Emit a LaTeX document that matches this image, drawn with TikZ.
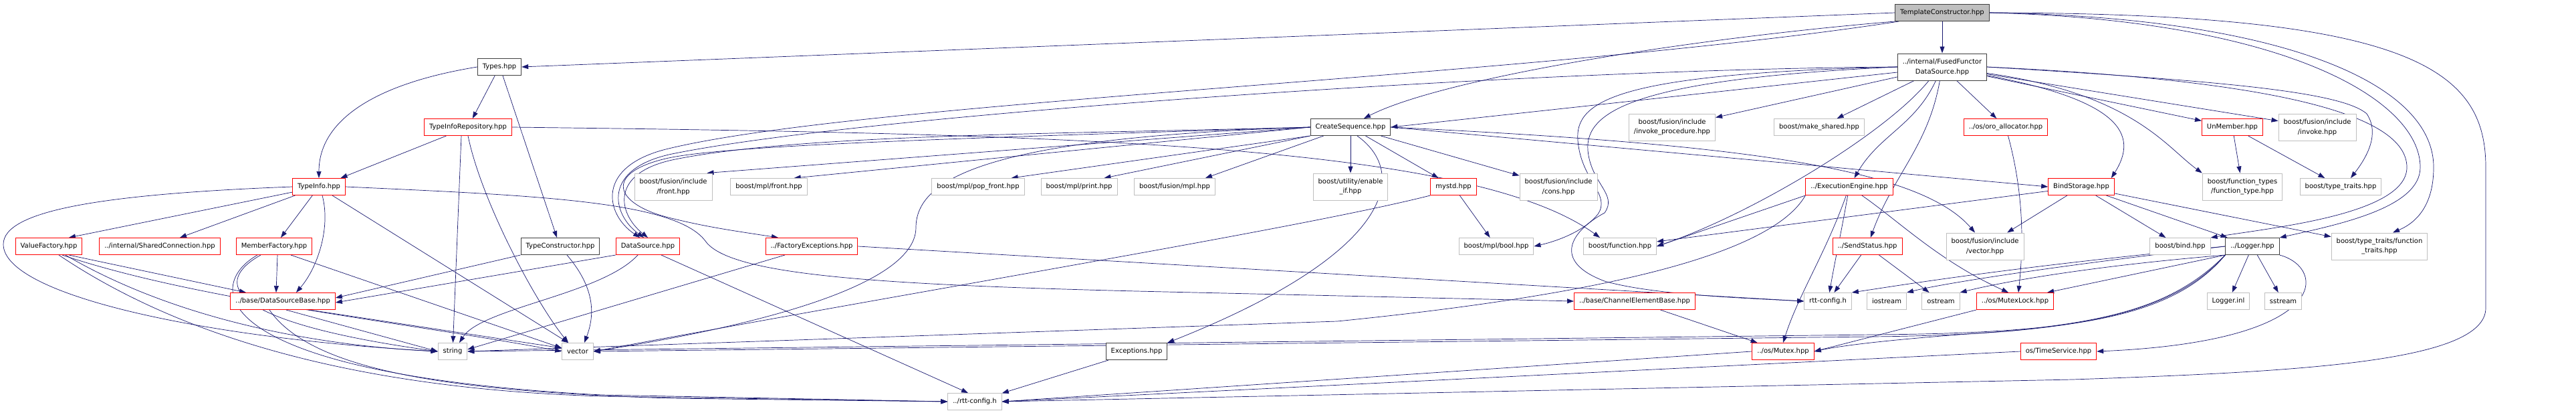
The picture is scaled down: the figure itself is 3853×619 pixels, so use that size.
\documentclass[tikz,border=0pt]{standalone}
\usepackage{fontspec}
\setmainfont{DejaVu Sans}
\usetikzlibrary{arrows.meta,backgrounds}
\definecolor{edgeblue}{RGB}{25,25,112}
\definecolor{truncred}{RGB}{255,0,0}
\definecolor{sysgray}{RGB}{191,191,191}
\definecolor{docdark}{RGB}{64,64,64}
\definecolor{rootfill}{RGB}{191,191,191}

\begin{document}
\begin{tikzpicture}[x=1pt,y=-1pt,
  hdr/.style={draw=#1,fill=white,line width=1pt,minimum height=25pt,inner xsep=7.5pt,inner ysep=1pt,align=center,font=\fontsize{10}{14.5}\selectfont},
  dochdr/.style={hdr=docdark},
  trunchdr/.style={hdr=truncred},
  syshdr/.style={hdr=sysgray},
  tall/.style={minimum height=40pt},
  incl/.style={draw=edgeblue,line width=0.7pt,-{Triangle[length=10pt,width=7pt]}}]
\useasboundingbox (0,0) rectangle (3853,619);

\node[dochdr,fill=rootfill] (TC) at (2905,19) {TemplateConstructor.hpp};
\node[dochdr,tall] (FF) at (2905,100) {../internal/FusedFunctor\\DataSource.hpp};
\node[dochdr] (Types) at (747,100) {Types.hpp};
\node[trunchdr] (TIR) at (700,190) {TypeInfoRepository.hpp};
\node[dochdr] (CS) at (2020,190) {CreateSequence.hpp};
\node[syshdr,tall] (invproc) at (2501,190) {boost/fusion/include\\/invoke\_procedure.hpp};
\node[syshdr] (makesh) at (2721,190) {boost/make\_shared.hpp};
\node[trunchdr] (oroalloc) at (3000,190) {../os/oro\_allocator.hpp};
\node[trunchdr] (UnMember) at (3339,190) {UnMember.hpp};
\node[syshdr,tall] (invoke) at (3466,190) {boost/fusion/include\\/invoke.hpp};
\node[trunchdr] (TypeInfo) at (477,279) {TypeInfo.hpp};
\node[syshdr,tall] (ffront) at (1007,279) {boost/fusion/include\\/front.hpp};
\node[syshdr] (mfront) at (1150,279) {boost/mpl/front.hpp};
\node[syshdr] (popfront) at (1463,279) {boost/mpl/pop\_front.hpp};
\node[syshdr] (print) at (1614,279) {boost/mpl/print.hpp};
\node[syshdr] (fmpl) at (1757,279) {boost/fusion/mpl.hpp};
\node[syshdr,tall] (enableif) at (2020,279) {boost/utility/enable\\\_if.hpp};
\node[trunchdr] (mystd) at (2174,279) {mystd.hpp};
\node[syshdr,tall] (cons) at (2331,279) {boost/fusion/include\\/cons.hpp};
\node[trunchdr] (EE) at (2766,279) {../ExecutionEngine.hpp};
\node[trunchdr] (BindStorage) at (3113,279) {BindStorage.hpp};
\node[syshdr,tall] (ftype) at (3354,279) {boost/function\_types\\/function\_type.hpp};
\node[syshdr] (ttraits) at (3501,279) {boost/type\_traits.hpp};
\node[trunchdr] (ValueFactory) at (73,368) {ValueFactory.hpp};
\node[trunchdr] (SharedConn) at (239,368) {../internal/SharedConnection.hpp};
\node[trunchdr] (MemberFactory) at (410,368) {MemberFactory.hpp};
\node[dochdr] (TypeConstructor) at (838,368) {TypeConstructor.hpp};
\node[trunchdr] (DataSource) at (969,368) {DataSource.hpp};
\node[trunchdr] (FactExc) at (1214,368) {../FactoryExceptions.hpp};
\node[syshdr] (mplbool) at (2238,368) {boost/mpl/bool.hpp};
\node[syshdr] (function) at (2423,368) {boost/function.hpp};
\node[trunchdr] (SendStatus) at (2793,368) {../SendStatus.hpp};
\node[syshdr,tall] (fvector) at (2969,368) {boost/fusion/include\\/vector.hpp};
\node[syshdr] (bind) at (3261,368) {boost/bind.hpp};
\node[dochdr] (Logger) at (3369,368) {../Logger.hpp};
\node[syshdr,tall] (ftraits) at (3559,368) {boost/type\_traits/function\\\_traits.hpp};
\node[trunchdr] (DSB) at (423,450) {../base/DataSourceBase.hpp};
\node[trunchdr] (CEB) at (2445,450) {../base/ChannelElementBase.hpp};
\node[syshdr] (rttcfg) at (2734,450) {rtt-config.h};
\node[syshdr] (iostream) at (2822,450) {iostream};
\node[syshdr] (ostream) at (2903,450) {ostream};
\node[trunchdr] (MutexLock) at (3014,450) {../os/MutexLock.hpp};
\node[syshdr] (loginl) at (3333,450) {Logger.inl};
\node[syshdr] (sstream) at (3415,450) {sstream};
\node[syshdr] (string) at (677,525) {string};
\node[syshdr] (vector) at (864,525) {vector};
\node[dochdr] (Exceptions) at (1700,525) {Exceptions.hpp};
\node[trunchdr] (Mutex) at (2667,525) {../os/Mutex.hpp};
\node[trunchdr] (TimeService) at (3079,525) {os/TimeService.hpp};
\node[syshdr] (rttcfgB) at (1458,600) {../rtt-config.h};

\begin{scope}[on background layer]
\draw[incl] (TC.west) -- (Types.east);
\draw[incl] (TC) -- (FF);
\draw[incl] (TC.south west) .. controls (2500,60) and (2150,120) .. ([xshift=20pt]CS.north);
\draw[incl] ([xshift=6pt]TC.south west) .. controls (2300,115) and (1300,150) .. (1000,222) .. controls (890,248) and (905,320) .. ([xshift=-12pt]DataSource.north);
\draw[incl] (TC.east) .. controls (3600,20) and (3718,100) .. (3718,250) -- (3718,460) .. controls (3718,540) and (3450,555) .. (3100,567) -- (rttcfgB.east);
\draw[incl] (TC.east) .. controls (3400,25) and (3640,120) .. (3640,250) .. controls (3640,300) and (3620,330) .. ([xshift=20pt]ftraits.north);
\draw[incl] (TC.east) .. controls (3420,30) and (3620,150) .. (3620,250) .. controls (3620,310) and (3500,335) .. (Logger.north east);

\draw[incl] ([yshift=-8pt]FF.west) -- (CS.east);
\draw[incl] (FF.west) .. controls (2300,103) and (1300,170) .. (1005,230) .. controls (900,252) and (915,320) .. ([xshift=-6pt]DataSource.north);
\draw[incl] (FF) -- (invproc);
\draw[incl] (FF) -- (makesh);
\draw[incl] (FF) -- (oroalloc);
\draw[incl] (FF) to[out=-115,in=60] (EE);
\draw[incl] (FF) to[out=-100,in=70] (SendStatus);
\draw[incl] ([xshift=-20pt]FF.south) .. controls (2820,200) and (2620,320) .. (function.east);
\draw[incl] (FF.west) .. controls (2420,110) and (2355,150) .. (2360,210) .. controls (2365,270) and (2410,290) .. (2390,320) .. controls (2370,345) and (2330,360) .. (mplbool.east);
\draw[incl] (FF.west) .. controls (2450,118) and (2370,165) .. (2375,225) .. controls (2380,275) and (2420,290) .. (2400,318) .. controls (2350,345) and (2320,390) .. (2400,420) .. controls (2470,440) and (2600,445) .. (rttcfg.west);
\draw[incl] (FF) -- (UnMember);
\draw[incl] (FF) -- (invoke);
\draw[incl] (FF) .. controls (3190,140) and (3240,220) .. (ftype.north west);
\draw[incl] (FF) .. controls (3170,150) and (3200,200) .. ([xshift=-5pt]BindStorage.north east);
\draw[incl] (FF.east) .. controls (3300,120) and (3500,135) .. (3540,170) .. controls (3560,200) and (3540,235) .. ([xshift=15pt]ttraits.north);
\draw[incl] (FF.east) .. controls (3400,120) and (3600,170) .. (3600,250) .. controls (3600,320) and (3400,340) .. (bind.north east);

\draw[incl] (Types) -- (TIR);
\draw[incl] (Types.west) .. controls (560,125) and (477,180) .. (TypeInfo.north);
\draw[incl] ([xshift=5pt]Types.south) -- ([xshift=-5pt]TypeConstructor.north);

\draw[incl] (TIR) -- (TypeInfo);
\draw[incl] ([xshift=-10pt]TIR.south) -- (string);
\draw[incl] (TIR.south) .. controls (720,300) and (800,450) .. ([xshift=-14pt]vector.north);
\draw[incl] (TIR.east) .. controls (1600,200) and (2200,215) .. ([xshift=-30pt]function.north);

\draw[incl] (CS.west) -- ([xshift=-8pt]ffront.north east);
\draw[incl] (CS.west) -- ([xshift=-20pt]mfront.north east);
\draw[incl] (CS.south west) -- ([xshift=-20pt]popfront.north east);
\draw[incl] (CS.south west) -- ([xshift=-20pt]print.north east);
\draw[incl] ([xshift=20pt]CS.south west) -- ([xshift=-15pt]fmpl.north east);
\draw[incl] (CS) -- (enableif);
\draw[incl] (CS) -- (mystd);
\draw[incl] (CS) -- (cons);
\draw[incl] (CS.west) .. controls (1600,200) and (1200,200) .. (1010,238) .. controls (910,258) and (925,320) .. (DataSource.north);
\draw[incl] (CS.west) .. controls (1500,205) and (1100,215) .. (1000,236) .. controls (900,258) and (920,305) .. (1000,325) .. controls (1060,340) and (1100,345) .. ([xshift=-50pt]FactExc.north);
\draw[incl] (CS.west) .. controls (1500,205) and (1370,260) .. (1370,340) .. controls (1370,440) and (1050,500) .. (vector.east);
\draw[incl] ([xshift=10pt]CS.south) .. controls (2110,260) and (2080,380) .. (Exceptions.north east);
\draw[incl] (CS.east) -- (BindStorage.west);
\draw[incl] (CS.east) .. controls (2600,215) and (2870,250) .. ([xshift=-15pt]fvector.north);

\draw[incl] (TypeInfo) -- ([xshift=30pt]ValueFactory.north);
\draw[incl] (TypeInfo) -- ([xshift=30pt]SharedConn.north);
\draw[incl] (TypeInfo) -- ([xshift=10pt]MemberFactory.north);
\draw[incl] ([xshift=5pt]TypeInfo.south) .. controls (495,340) and (475,400) .. ([xshift=20pt]DSB.north);
\draw[incl] ([xshift=20pt]TypeInfo.south) -- ([xshift=-14pt]vector.north);
\draw[incl] (TypeInfo.west) .. controls (150,290) and (5,315) .. (5,365) .. controls (5,440) and (300,505) .. (string.west);
\draw[incl] (TypeInfo.east) .. controls (800,292) and (1010,300) .. (1055,360) .. controls (1090,410) and (1300,425) .. (1700,435) -- (CEB.west);

\draw[incl] ([xshift=30pt]ValueFactory.south) -- ([xshift=-55pt]DSB.north);
\draw[incl] ([xshift=25pt]ValueFactory.south) .. controls (250,470) and (450,515) .. (string.west);
\draw[incl] ([xshift=20pt]ValueFactory.south) .. controls (300,450) and (600,480) .. (vector.west);
\draw[incl] ([xshift=15pt]ValueFactory.south) .. controls (250,490) and (500,580) .. (900,592) -- (rttcfgB.west);

\draw[incl] ([xshift=5pt]MemberFactory.south) -- ([xshift=-10pt]DSB.north);
\draw[incl] ([xshift=25pt]MemberFactory.south) -- ([yshift=5pt]vector.west);
\draw[incl] ([xshift=-20pt]MemberFactory.south) .. controls (320,420) and (330,480) .. (string.west);
\draw[incl] ([xshift=-25pt]MemberFactory.south) .. controls (300,430) and (320,560) .. (900,590) -- (rttcfgB.west);

\draw[incl] ([xshift=-20pt]DSB.south) .. controls (470,560) and (700,585) .. (1000,595) -- (rttcfgB.west);
\draw[incl] ([xshift=5pt]DSB.south) -- (string.west);
\draw[incl] ([xshift=40pt]DSB.south) -- ([yshift=5pt]vector.west);

\draw[incl] (TypeConstructor.south west) -- ([yshift=5pt]DSB.east);
\draw[incl] ([xshift=10pt]TypeConstructor.south) .. controls (890,430) and (890,470) .. ([xshift=10pt]vector.north);

\draw[incl] (DataSource.south west) -- ([yshift=-2pt]DSB.east);
\draw[incl] ([xshift=-15pt]DataSource.south) .. controls (900,440) and (720,460) .. ([xshift=10pt]string.north);
\draw[incl] ([xshift=20pt]DataSource.south) -- ([xshift=-10pt]rttcfgB.north);

\draw[incl] ([xshift=-40pt]FactExc.south) -- ([yshift=3pt]string.east);
\draw[incl] (FactExc.east) -- (rttcfg.west);

\draw[incl] (mystd) -- (mplbool);
\draw[incl] (mystd.south west) .. controls (1950,340) and (1400,430) .. (vector.east);

\draw[incl] (EE.south west) -- (function.east);
\draw[incl] (EE) to[out=-100,in=80] (rttcfg);
\draw[incl] (EE) .. controls (2730,380) and (2690,440) .. (Mutex.north);
\draw[incl] (EE) .. controls (2840,330) and (2900,390) .. ([xshift=-10pt]MutexLock.north);
\draw[incl] (EE.south west) .. controls (2650,380) and (2400,440) .. (2000,480) -- (string.east);

\draw[incl] (SendStatus) -- (rttcfg);
\draw[incl] (SendStatus) -- (ostream);
\draw[incl] (oroalloc) .. controls (3030,300) and (3025,380) .. ([xshift=5pt]MutexLock.north);
\draw[incl] (MutexLock.south west) -- (Mutex.east);
\draw[incl] (CEB) -- (Mutex);
\draw[incl] (Mutex.west) -- (rttcfgB.east);
\draw[incl] (TimeService.west) -- (rttcfgB.east);
\draw[incl] (Exceptions) -- (rttcfgB);

\draw[incl] (BindStorage) -- (function);
\draw[incl] (BindStorage) -- (fvector);
\draw[incl] (BindStorage) -- (bind);
\draw[incl] (BindStorage) -- (Logger);
\draw[incl] (BindStorage) -- (ftraits);
\draw[incl] (UnMember) -- (ftype);
\draw[incl] (UnMember) -- (ttraits);

\draw[incl] (Logger) -- (loginl);
\draw[incl] (Logger) -- (sstream);
\draw[incl] (Logger.south east) .. controls (3480,400) and (3490,510) .. (TimeService.east);
\draw[incl] (Logger.west) .. controls (3000,400) and (2850,425) .. (rttcfg.north east);
\draw[incl] (Logger.west) .. controls (3050,400) and (2900,425) .. (iostream.north east);
\draw[incl] (Logger.south west) .. controls (3100,400) and (2980,425) .. (ostream.north east);
\draw[incl] (Logger.south west) -- ([xshift=-10pt]MutexLock.north east);
\draw[incl] (Logger.south west) .. controls (3250,460) and (3150,480) .. (3000,495) .. controls (2850,505) and (2760,515) .. (Mutex.east);
\draw[incl] (Logger.south west) .. controls (3250,470) and (3100,500) .. (2800,503) -- (vector.east);
\draw[incl] (Logger.south west) .. controls (3250,475) and (3100,498) .. (2800,500) -- (string.east);
\end{scope}
\end{tikzpicture}
\end{document}
